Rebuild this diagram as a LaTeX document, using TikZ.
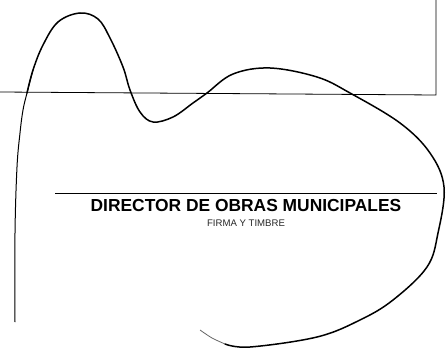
\documentclass[tikz,border=0pt]{standalone}
\usepackage{fontspec}
\setmainfont{Liberation Sans}
\usetikzlibrary{positioning}

\begin{document}
\begin{tikzpicture}[x=1pt, y=-1pt]
% 1. 标记重要的点
\useasboundingbox (0, 0) rectangle (446, 358);
\coordinate (boxL) at (0, 92);
\coordinate (boxR) at (436, 95);
\coordinate (boxT) at (436, 0);
\coordinate (lineL) at (55, 193);
\coordinate (lineR) at (437, 193);

% 2. 绘制上方的框线和签名线
\draw[black, line width=0.8pt] (boxL) -- (boxR) -- (boxT);
\draw[black, line width=0.9pt] (lineL) -- (lineR);

% 3. 文字
\node[black, inner sep=0pt] (cargo) at (246, 205.5)
    {\fontsize{17.4}{20}\selectfont\bfseries DIRECTOR DE OBRAS MUNICIPALES};
\node[black!85, inner sep=0pt, below=8pt of cargo] (firma)
    {\fontsize{9.6}{11}\selectfont FIRMA Y TIMBRE};

% 4. 绘制签名
\draw[black, line width=1pt, smooth, tension=0.6] plot coordinates
    {(15, 322) (15, 233) (17, 167) (20, 133) (23, 110) (27, 93) (33, 70)};
\draw[black, line width=1.5pt, line cap=round, smooth, tension=0.6] plot coordinates
    {(27, 93) (33, 70)
     (43, 45) (58, 22) (80, 13) (98, 19) (110, 38) (123, 67) (130, 90)
     (140, 112) (153, 122) (173, 117) (193, 103) (207, 93) (233, 74)
     (270, 68) (317, 77) (350, 93) (400, 123) (430, 153) (444, 187)
     (438, 233) (427, 267) (393, 300) (360, 320) (317, 337) (250, 347) (225, 344)};
\draw[black!60, line width=0.8pt, smooth] plot coordinates
    {(225, 344) (212, 338) (200, 330)};
\end{tikzpicture}
\end{document}
